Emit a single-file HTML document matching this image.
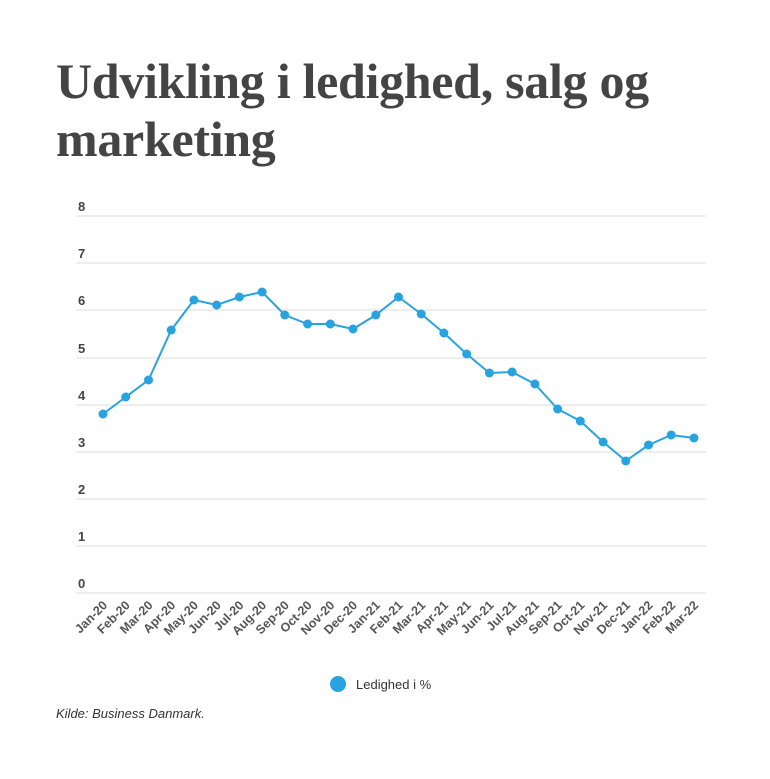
<!DOCTYPE html>
<html><head><meta charset="utf-8"><style>
body{margin:0;background:#fff;width:770px;height:779px;overflow:hidden}
h1{position:absolute;left:56px;top:52px;margin:0;font-family:"Liberation Serif",serif;font-weight:bold;font-size:50px;line-height:58px;color:#444;letter-spacing:-0.3px}
.src{position:absolute;left:56px;top:706px;font-family:"Liberation Sans",sans-serif;font-style:italic;font-size:13px;color:#333}
</style></head><body>
<h1>Udvikling i ledighed, salg og<br>marketing</h1>
<svg width="770" height="779" style="position:absolute;left:0;top:0" font-family="Liberation Sans, sans-serif">
<g stroke="#ddd" stroke-width="1">
<line x1="76" x2="706" y1="216" y2="216"/><line x1="76" x2="706" y1="263" y2="263"/><line x1="76" x2="706" y1="310" y2="310"/><line x1="76" x2="706" y1="358" y2="358"/><line x1="76" x2="706" y1="405" y2="405"/><line x1="76" x2="706" y1="452" y2="452"/><line x1="76" x2="706" y1="499" y2="499"/><line x1="76" x2="706" y1="546" y2="546"/><line x1="76" x2="706" y1="593" y2="593"/>
</g>
<g font-size="13" font-weight="bold" fill="#444">
<text x="78" y="211">8</text><text x="78" y="258">7</text><text x="78" y="305">6</text><text x="78" y="353">5</text><text x="78" y="400">4</text><text x="78" y="447">3</text><text x="78" y="494">2</text><text x="78" y="541">1</text><text x="78" y="588">0</text>
</g>
<polyline fill="none" stroke="#29a3e0" stroke-width="2" points="103,414 125.7,397 148.5,380 171.2,330 193.9,300 216.7,305 239.4,297 262.1,292 284.8,315 307.6,324 330.3,324 353,329 375.8,315 398.5,297 421.2,314 443.9,333 466.7,354 489.4,373 512.1,372 534.9,384 557.6,409 580.3,421 603.1,442 625.8,461 648.5,445 671.2,435 694,438"/>
<g fill="#29a3e0">
<circle cx="103" cy="414" r="4.5"/><circle cx="125.7" cy="397" r="4.5"/><circle cx="148.5" cy="380" r="4.5"/><circle cx="171.2" cy="330" r="4.5"/><circle cx="193.9" cy="300" r="4.5"/><circle cx="216.7" cy="305" r="4.5"/><circle cx="239.4" cy="297" r="4.5"/><circle cx="262.1" cy="292" r="4.5"/><circle cx="284.8" cy="315" r="4.5"/><circle cx="307.6" cy="324" r="4.5"/><circle cx="330.3" cy="324" r="4.5"/><circle cx="353" cy="329" r="4.5"/><circle cx="375.8" cy="315" r="4.5"/><circle cx="398.5" cy="297" r="4.5"/><circle cx="421.2" cy="314" r="4.5"/><circle cx="443.9" cy="333" r="4.5"/><circle cx="466.7" cy="354" r="4.5"/><circle cx="489.4" cy="373" r="4.5"/><circle cx="512.1" cy="372" r="4.5"/><circle cx="534.9" cy="384" r="4.5"/><circle cx="557.6" cy="409" r="4.5"/><circle cx="580.3" cy="421" r="4.5"/><circle cx="603.1" cy="442" r="4.5"/><circle cx="625.8" cy="461" r="4.5"/><circle cx="648.5" cy="445" r="4.5"/><circle cx="671.2" cy="435" r="4.5"/><circle cx="694" cy="438" r="4.5"/>
</g>
<g font-size="12.5" font-weight="bold" fill="#555" text-anchor="end">
<text transform="translate(108,606) rotate(-45)">Jan-20</text>
<text transform="translate(130.7,606) rotate(-45)">Feb-20</text>
<text transform="translate(153.5,606) rotate(-45)">Mar-20</text>
<text transform="translate(176.2,606) rotate(-45)">Apr-20</text>
<text transform="translate(198.9,606) rotate(-45)">May-20</text>
<text transform="translate(221.7,606) rotate(-45)">Jun-20</text>
<text transform="translate(244.4,606) rotate(-45)">Jul-20</text>
<text transform="translate(267.1,606) rotate(-45)">Aug-20</text>
<text transform="translate(289.8,606) rotate(-45)">Sep-20</text>
<text transform="translate(312.6,606) rotate(-45)">Oct-20</text>
<text transform="translate(335.3,606) rotate(-45)">Nov-20</text>
<text transform="translate(358,606) rotate(-45)">Dec-20</text>
<text transform="translate(380.8,606) rotate(-45)">Jan-21</text>
<text transform="translate(403.5,606) rotate(-45)">Feb-21</text>
<text transform="translate(426.2,606) rotate(-45)">Mar-21</text>
<text transform="translate(448.9,606) rotate(-45)">Apr-21</text>
<text transform="translate(471.7,606) rotate(-45)">May-21</text>
<text transform="translate(494.4,606) rotate(-45)">Jun-21</text>
<text transform="translate(517.1,606) rotate(-45)">Jul-21</text>
<text transform="translate(539.9,606) rotate(-45)">Aug-21</text>
<text transform="translate(562.6,606) rotate(-45)">Sep-21</text>
<text transform="translate(585.3,606) rotate(-45)">Oct-21</text>
<text transform="translate(608.1,606) rotate(-45)">Nov-21</text>
<text transform="translate(630.8,606) rotate(-45)">Dec-21</text>
<text transform="translate(653.5,606) rotate(-45)">Jan-22</text>
<text transform="translate(676.2,606) rotate(-45)">Feb-22</text>
<text transform="translate(699,606) rotate(-45)">Mar-22</text>
</g>
<circle cx="338" cy="684" r="8" fill="#29a3e0"/>
<text x="356" y="689" font-size="13" fill="#333">Ledighed i %</text>
</svg>
<div class="src">Kilde: Business Danmark.</div>
</body></html>
